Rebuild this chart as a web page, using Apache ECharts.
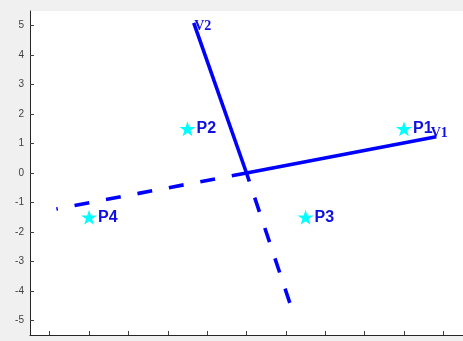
<!DOCTYPE html>
<html><head><meta charset="utf-8">
<script src="https://cdn.jsdelivr.net/npm/echarts@6/dist/echarts.min.js"></script>
<style>html,body{margin:0;padding:0;background:#f0f0f0;}#c{width:463px;height:341px;}</style>
</head><body><div id="c"></div>
<script>
// Data
const tickValues = [-5,-4,-3,-2,-1,0,1,2,3,4,5];
const pointNames = ['P1','P2','P3','P4'];
const pointX = [4, -1.5, 1.5, -4];
const pointY = [1.5, 1.5, -1.5, -1.5];
const vectorNames = ['V1','V2'];
const vectorPos = [[4.82, 1.23], [-1.34, 5.1]];   // solid ends
const vectorNeg = [[-4.83, -1.22], [1.1, -4.41]];  // dashed ends

const starPath = 'path://M100,0 L122.45,69.1 L195.1,69.1 L136.33,111.8 L158.8,180.9 L100,138.2 L41.2,180.9 L63.67,111.8 L4.9,69.1 L77.55,69.1 Z';
const blue = '#0000ff';
const textBlue = '#1010e0';

const series = [];
vectorNames.forEach((n, i) => {
  series.push({
    type: 'line', data: [[0,0], vectorPos[i]], symbol: 'none', silent: true,
    lineStyle: {color: blue, width: 3.6, cap: 'butt'}
  });
  const dashData = i === 0 ? [[0,0], vectorNeg[i]] : [vectorNeg[i], [0,0]];
  series.push({
    type: 'line', data: dashData, symbol: 'none', silent: true,
    lineStyle: {color: blue, width: 3.6, type: [15,17], cap: 'butt'}
  });
});
series.push({
  type: 'scatter', symbol: 'circle', symbolSize: 1,
  itemStyle: {color: 'rgba(0,0,0,0)', opacity: 1},
  data: vectorNames.map((n, i) => ({value: vectorPos[i], name: n})),
  label: {
    show: true, position: 'right', distance: 0,
    formatter: p => p.name,
    fontFamily: '"Liberation Serif", "DejaVu Serif", serif', fontWeight: 'bold', fontSize: 14,
    color: textBlue, opacity: 1
  },
  labelLayout: p => p.dataIndex === 0 ? {dx: -6, dy: -3} : {dx: 0, dy: 4}
});
series.push({
  type: 'scatter', symbol: starPath, symbolSize: [16, 15],
  itemStyle: {color: '#00ffff', opacity: 1},
  data: pointNames.map((n, i) => ({value: [pointX[i], pointY[i]], name: n})),
  label: {
    show: true, position: 'right', distance: 1,
    formatter: p => p.name,
    fontFamily: '"Liberation Sans", Arial, sans-serif', fontWeight: 'bold', fontSize: 16,
    color: textBlue, opacity: 1
  }
});

const chart = echarts.init(document.getElementById('c'));
chart.setOption({
  backgroundColor: '#f0f0f0',
  animation: false,
  grid: {left: 30, top: 11, width: 440, height: 324, show: true, backgroundColor: '#ffffff', borderWidth: 0},
  xAxis: {
    type: 'value', min: -5.5, max: 5.5,
    axisLine: {onZero: false, lineStyle: {color: '#262626', width: 1}},
    axisTick: {inside: true, length: 4, customValues: tickValues, lineStyle: {color: '#404040'}},
    axisLabel: {show: false},
    splitLine: {show: false}
  },
  yAxis: {
    type: 'value', min: -5.5, max: 5.5,
    axisLine: {onZero: false, lineStyle: {color: '#262626', width: 1}},
    axisTick: {inside: true, length: 4, customValues: tickValues, lineStyle: {color: '#404040'}},
    axisLabel: {customValues: tickValues, color: '#404040', fontSize: 10, margin: 6,
      fontFamily: '"Liberation Sans", Arial, sans-serif'},
    splitLine: {show: false}
  },
  series: series
});
</script>
</body></html>
